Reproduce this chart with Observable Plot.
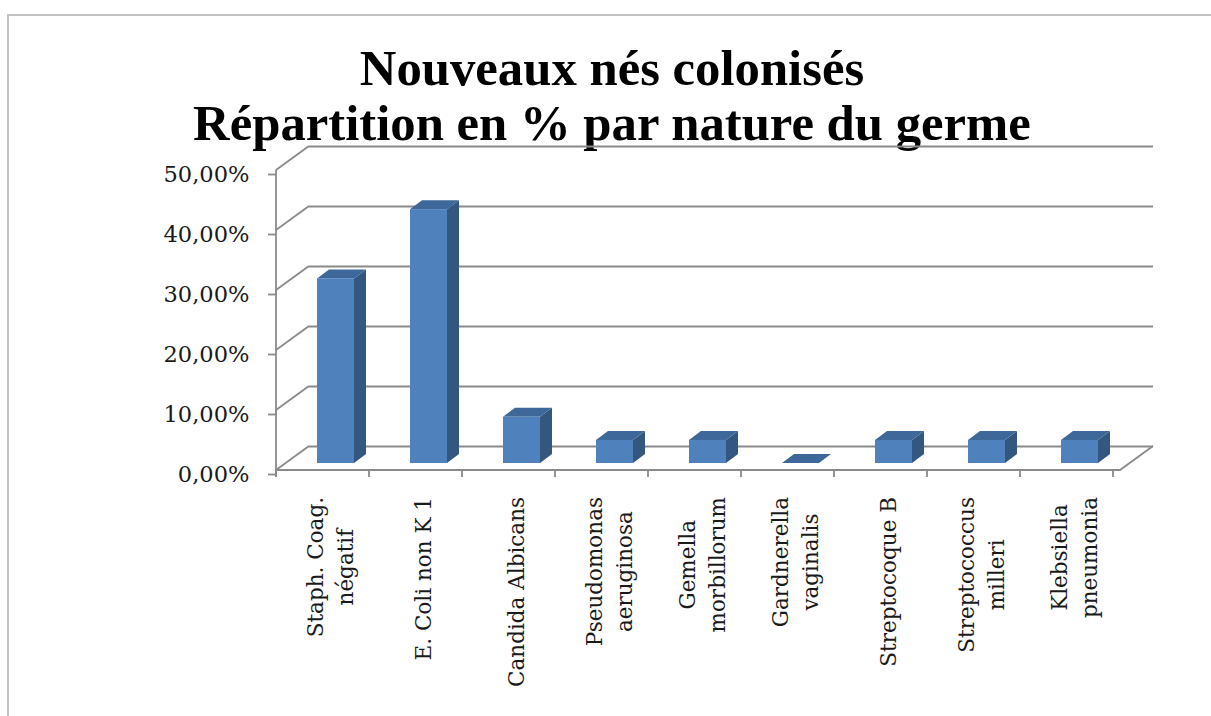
<!DOCTYPE html>
<html>
<head>
<meta charset="utf-8">
<script src="https://cdn.jsdelivr.net/npm/d3@7"></script>
<script src="https://cdn.jsdelivr.net/npm/@observablehq/plot@0.6"></script>
<style>
  html, body { margin: 0; padding: 0; background: #fff; overflow: hidden; }
  #chart { width: 1211px; height: 716px; }
  svg { display: block; }
</style>
</head>
<body>
<div id="chart"></div>
<script>
// ---------- data ----------
const categories = [
  "Staph. Coag.\nnégatif",
  "E. Coli non K 1",
  "Candida Albicans",
  "Pseudomonas\naeruginosa",
  "Gemella\nmorbillorum",
  "Gardnerella\nvaginalis",
  "Streptocoque B",
  "Streptococcus\nmilleri",
  "Klebsiella\npneumonia"
];
const values = [0.3077, 0.4231, 0.0769, 0.0385, 0.0385, 0, 0.0385, 0.0385, 0.0385];
const yTicks = [0, 0.1, 0.2, 0.3, 0.4, 0.5];
const titleLines = ["Nouveaux nés colonisés", "Répartition en % par nature du germe"];

// ---------- style ----------
const W = 1211, H = 716;
const GRID = "#8a8a8a";
const FRONT = "#4f81bd", SIDE = "#34577f", TOP = "#3e6899";
const DX = 33, DY = -24;        // depth of the 3D box
const BX = 9, BY = -7;          // bar front plane offset
const BDX = 12, BDY = -9;       // bar depth
const INSET = 28;
const LABEL_FONT = "21.5px 'DejaVu Serif'";
const fmt = d3.format(".2%");
const frFmt = v => fmt(v).replace(".", ",");

const table = categories.map((c, i) => ({cat: c, v: values[i]}));

const canvas = document.createElement("canvas");
const ctx = canvas.getContext("2d");
function measure(text, font) { ctx.font = font; return ctx.measureText(text).width; }
const Y_FONT_SIZE = Math.min(24, Math.max(19, 21.5 * 86 / measure("50,00%", LABEL_FONT)));

function bw(scales, dims) {
  const b = scales.x.bandwidth;
  if (typeof b === "function") return b();
  if (typeof b === "number") return b;
  return (dims.width - dims.marginLeft - dims.marginRight) / categories.length;
}

// walls, floor, axis line, category ticks
function walls(index, scales, vals, dims) {
  const g = d3.create("svg:g").attr("fill", "none").attr("stroke", GRID).attr("stroke-width", 1.8);
  const L = dims.marginLeft, R = dims.width - dims.marginRight;
  const y0 = scales.y(0);
  for (const t of yTicks) {
    const y = scales.y(t);
    g.append("path").attr("d", `M${L},${y}L${L + DX},${y + DY}`);
  }
  g.append("path").attr("d", `M${L},${scales.y(yTicks[yTicks.length - 1])}L${L},${y0 + 7}`);
  g.append("path").attr("d", `M${L},${y0}L${R},${y0}L${R + DX},${y0 + DY}`);
  const step = bw(scales, dims);
  for (let k = 0; k <= categories.length; k++) {
    const x = L + k * step;
    g.append("path").attr("d", `M${x},${y0}L${x},${y0 + 7}`);
  }
  return g.node();
}

// side and top faces of the bars
function barDepth(index, scales, vals, dims) {
  const g = d3.create("svg:g");
  const b = bw(scales, dims);
  for (const d of table) {
    const x0 = scales.x(d.cat) + INSET + BX, x1 = scales.x(d.cat) + b - INSET + BX;
    const yb = scales.y(0) + BY, yt = scales.y(d.v) + BY;
    g.append("path")
      .attr("d", `M${x1},${yt}L${x1 + BDX},${yt + BDY}L${x1 + BDX},${yb + BDY}L${x1},${yb}Z`)
      .attr("fill", SIDE);
    g.append("path")
      .attr("d", `M${x0},${yt}L${x0 + BDX},${yt + BDY}L${x1 + BDX},${yt + BDY}L${x1},${yt}Z`)
      .attr("fill", TOP);
  }
  return g.node();
}

// rotated category labels
function catLabels(index, scales, vals, dims) {
  const g = d3.create("svg:g")
    .attr("font-family", "'DejaVu Serif'").attr("font-size", 21.5).attr("fill", "#1a1a1a")
    .attr("text-anchor", "middle");
  const b = bw(scales, dims);
  const top = scales.y(0) + 27;
  for (const c of categories) {
    const lines = c.split("\n");
    const Lmax = d3.max(lines, l => measure(l, LABEL_FONT));
    const cx = scales.x(c) + b / 2;
    lines.forEach((l, k) => {
      const bx = cx + 11 + (k - (lines.length - 1) / 2) * 30;
      g.append("text")
        .attr("transform", `translate(${bx},${top + Lmax / 2}) rotate(-90)`)
        .text(l);
    });
  }
  return g.node();
}

// chart frame + title
function frameAndTitle(index, scales, vals, dims) {
  const g = d3.create("svg:g");
  g.append("path").attr("d", `M8,${H}L8,15L${W},15`).attr("fill", "none")
    .attr("stroke", "#c2c2c2").attr("stroke-width", 2);
  const w100 = measure(titleLines[1], "bold 100px 'Liberation Serif'");
  const fs = 100 * 839 / w100;
  const t = g.append("g").attr("font-family", "'Liberation Serif'").attr("font-weight", "bold")
    .attr("font-size", fs).attr("text-anchor", "middle").attr("fill", "#000");
  t.append("text").attr("x", 612).attr("y", 85).text(titleLines[0]);
  t.append("text").attr("x", 612).attr("y", 140).text(titleLines[1]);
  return g.node();
}

const chart = Plot.plot({
  width: W, height: H,
  marginLeft: 276, marginRight: 91, marginTop: 170, marginBottom: 246,
  x: {type: "band", domain: categories, padding: 0, axis: null},
  y: {domain: [0, 0.5], axis: null},
  style: {background: "transparent", overflow: "visible"},
  marks: [
    frameAndTitle,
    Plot.ruleY(yTicks, {dx: DX, dy: DY, stroke: GRID, strokeWidth: 1.8}),
    walls,
    Plot.axisY({ticks: yTicks, tickSize: 8, tickPadding: 19, stroke: GRID, strokeWidth: 1.8,
      tickFormat: frFmt, fontSize: Y_FONT_SIZE, fontFamily: "DejaVu Serif", fill: "#1a1a1a", dy: 4, label: null}),
    barDepth,
    Plot.barY(table, {x: "cat", y: "v", insetLeft: INSET, insetRight: INSET, dx: BX, dy: BY, fill: FRONT}),
    catLabels
  ]
});
document.getElementById("chart").appendChild(chart);
</script>
</body>
</html>
